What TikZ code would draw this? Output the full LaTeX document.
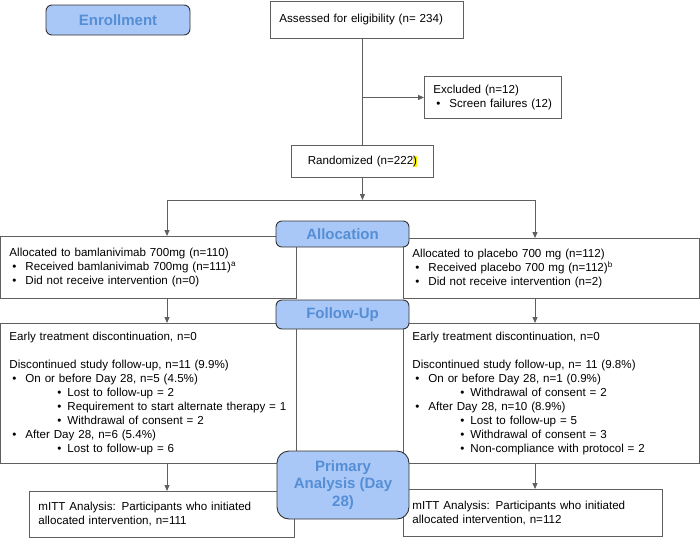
\documentclass[tikz,border=0pt]{standalone}
\usepackage{fontspec}
\setmainfont{Liberation Sans}
\usetikzlibrary{arrows.meta,positioning}
\definecolor{phasefill}{HTML}{A9C8F7}
\definecolor{phasetext}{HTML}{558ED5}
\definecolor{boxline}{HTML}{5F5F5F}
\newcommand{\bulA}{\hspace*{3pt}\makebox[13pt][l]{\textbullet}}
\newcommand{\bulB}{\hspace*{48pt}\makebox[10pt][l]{\textbullet}}
\newcommand{\hlite}[1]{{\setlength{\fboxsep}{0pt}\colorbox{yellow}{#1}}}
\tikzset{every path/.style={boxline, line width=0.9pt},
  box/.style={draw=boxline, fill=white, text=black, anchor=north west, align=left, inner xsep=9pt, inner ysep=2pt, font=\fontsize{11.6}{14.1}\selectfont},
  phase/.style={draw=black!80, fill=phasefill, text=phasetext, rounded corners=6pt, inner sep=0pt, align=center, font=\fontsize{15}{17.5}\selectfont\bfseries},
  arr/.style={-{Triangle[length=6pt,width=5pt]}}}

\begin{document}
\begin{tikzpicture}[x=1pt,y=-1pt]
  \useasboundingbox (0,0) rectangle (700,538);
  % boxes
  \node[box, minimum height=37pt, text width=175pt] (assessed) at (270,1) {Assessed for eligibility (n= 234)};
  \node[box, minimum height=42pt, text width=119pt] (excluded) at (424,76) {Excluded (n=12)\\\bulA Screen failures (12)};
  \node[box, minimum height=32pt, text width=124pt, align=center] (randomized) at (291,145) {Randomized (n=222\hlite{)}};
  \node[box, minimum height=62pt, text width=278pt] (allocL) at (0,236) {Allocated to bamlanivimab 700mg (n=110)\\
    \bulA Received bamlanivimab 700mg (n=111)\textsuperscript{a}\\
    \bulA Did not receive intervention (n=0)};
  \node[box, minimum height=60pt, text width=278pt] (allocR) at (403,238) {Allocated to placebo 700 mg (n=112)\\
    \bulA Received placebo 700 mg (n=112)\textsuperscript{b}\\
    \bulA Did not receive intervention (n=2)};
  \node[box, minimum height=140pt, text width=278pt] (followL) at (0,323) {Early treatment discontinuation, n=0\\[14.1pt]
    Discontinued study follow-up, n=11 (9.9\%)\\
    \bulA On or before Day 28, n=5 (4.5\%)\\
    \bulB Lost to follow-up = 2\\
    \bulB Requirement to start alternate therapy = 1\\
    \bulB Withdrawal of consent = 2\\
    \bulA After Day 28, n=6 (5.4\%)\\
    \bulB Lost to follow-up = 6};
  \node[box, minimum height=140pt, text width=278pt] (followR) at (403,323) {Early treatment discontinuation, n=0\\[14.1pt]
    Discontinued study follow-up, n= 11 (9.8\%)\\
    \bulA On or before Day 28, n=1 (0.9\%)\\
    \bulB Withdrawal of consent = 2\\
    \bulA After Day 28, n=10 (8.9\%)\\
    \bulB Lost to follow-up = 5\\
    \bulB Withdrawal of consent = 3\\
    \bulB Non-compliance with protocol = 2};
  \node[box, minimum height=46pt, text width=247pt] (mittL) at (29,491) {mITT Analysis: Participants who initiated\\allocated intervention, n=111};
  \node[box, minimum height=47pt, text width=241pt] (mittR) at (403,489) {mITT Analysis: Participants who initiated\\allocated intervention, n=112};
  % connectors
  \coordinate (sL) at (167,200);
  \coordinate (sR) at (535,200);
  \draw (assessed.south -| randomized.north) -- (randomized.north);
  \draw[arr] (randomized.north |- excluded.west) -- (excluded.west);
  \draw[arr] (randomized.south) -- (randomized.south |- sL);
  \draw (sL) -- (sR);
  \draw[arr] (sL) -- (sL |- allocL.north);
  \draw[arr] (sR) -- (sR |- allocR.north);
  \foreach \c/\u/\v in {sL/allocL/followL, sL/followL/mittL, sR/allocR/followR, sR/followR/mittR}
    \draw[arr] (\c |- \u.south) -- (\c |- \v.north);
  % phases
  \node[phase, minimum width=144pt, minimum height=30pt] (enroll) at (118,20) {Enrollment};
  \node[phase, minimum width=133pt, minimum height=26pt] (alloc) at (342.5,234) {Allocation};
  \node[phase, minimum width=133pt, minimum height=29pt] (follow) at (342.5,314.5) {Follow-Up};
  \node[phase, minimum width=132pt, minimum height=68pt, rounded corners=12pt] (primary) at (343,485) {Primary\\Analysis (Day\\28)};
\end{tikzpicture}
\end{document}
